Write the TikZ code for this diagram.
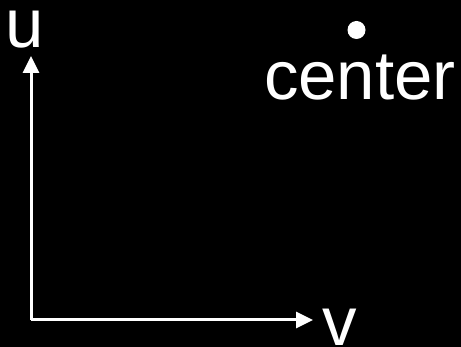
\documentclass[tikz,border=0pt]{standalone}
\usepackage{fontspec}
\setmainfont{Liberation Sans}
\usetikzlibrary{arrows.meta}
\begin{document}
\begin{tikzpicture}[x=1pt,y=-1pt,
  axis/.style={draw=white,line width=3pt,-{Triangle[width=16pt,length=17pt]}},
  lbl/.style={text=white,inner sep=0pt,anchor=base,font=\fontsize{69}{80}\selectfont}]
\fill[black] (0,0) rectangle (461,347);
\useasboundingbox (0,0) rectangle (461,347);
\coordinate (o) at (31,320);
\coordinate (ut) at (31,56);
\coordinate (vt) at (313,320);
\draw[axis] (o) -- (ut);
\draw[axis] (o) -- (vt);
\node[lbl] (u) at (25,48) {u};
\node[lbl] (v) at (340,346) {v};
\node[lbl] (c) at (360,100) {center};
\node[circle,fill=white,inner sep=0pt,minimum size=18pt] (dot) at (356.5,30) {};
\end{tikzpicture}
\end{document}
